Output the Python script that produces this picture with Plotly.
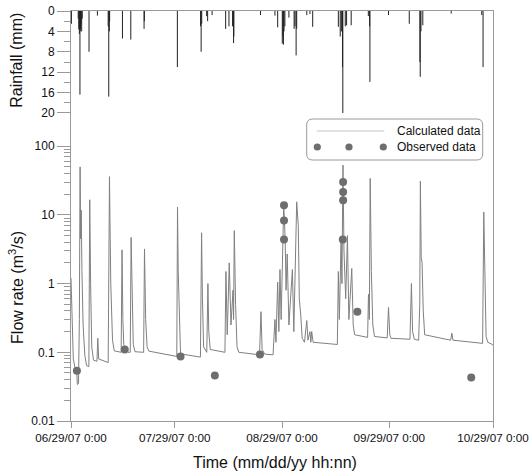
import plotly.graph_objects as go

# ---------------- data ----------------
calc_time = [
    "2007-06-29 00:00", "2007-06-29 08:00", "2007-06-29 16:00", "2007-06-30 06:00", "2007-06-30 16:00",
    "2007-06-30 20:00", "2007-07-01 04:00", "2007-07-01 10:00", "2007-07-01 15:00", "2007-07-01 19:00",
    "2007-07-01 23:00", "2007-07-02 04:00", "2007-07-02 12:00", "2007-07-03 00:00", "2007-07-03 12:00",
    "2007-07-04 04:00", "2007-07-04 10:00", "2007-07-04 16:00", "2007-07-05 00:00", "2007-07-05 12:00",
    "2007-07-06 12:00", "2007-07-06 18:00", "2007-07-07 00:00", "2007-07-09 18:00", "2007-07-09 22:00",
    "2007-07-10 03:00", "2007-07-10 06:00", "2007-07-10 12:00", "2007-07-11 00:00", "2007-07-11 12:00",
    "2007-07-13 12:00", "2007-07-13 18:00", "2007-07-14 00:00", "2007-07-14 06:00", "2007-07-15 12:00",
    "2007-07-16 03:00", "2007-07-16 09:00", "2007-07-16 16:00", "2007-07-17 00:00", "2007-07-17 12:00",
    "2007-07-20 00:00", "2007-07-20 06:00", "2007-07-20 14:00", "2007-07-21 00:00", "2007-07-21 12:00",
    "2007-07-29 14:00", "2007-07-29 19:00", "2007-07-30 00:00", "2007-07-30 08:00", "2007-07-30 16:00",
    "2007-08-05 10:00", "2007-08-05 18:00", "2007-08-06 00:00", "2007-08-06 08:00", "2007-08-07 06:00",
    "2007-08-07 14:00", "2007-08-07 20:00", "2007-08-08 06:00", "2007-08-12 12:00", "2007-08-12 19:00",
    "2007-08-13 04:00", "2007-08-13 18:00", "2007-08-14 06:00", "2007-08-14 20:00", "2007-08-15 00:00",
    "2007-08-15 05:00", "2007-08-15 14:00", "2007-08-16 00:00", "2007-08-16 12:00", "2007-08-22 12:00",
    "2007-08-22 22:00", "2007-08-23 06:00", "2007-08-24 00:00", "2007-08-26 10:00", "2007-08-26 23:00",
    "2007-08-27 06:00", "2007-08-27 18:00", "2007-08-28 02:00", "2007-08-28 10:00", "2007-08-28 18:00",
    "2007-08-29 12:00", "2007-08-29 22:00", "2007-08-30 04:00", "2007-08-30 12:00", "2007-08-31 00:00",
    "2007-09-01 00:00", "2007-09-01 10:00", "2007-09-02 06:00", "2007-09-02 17:00", "2007-09-03 00:00",
    "2007-09-03 10:00", "2007-09-03 20:00", "2007-09-04 12:00", "2007-09-05 04:00", "2007-09-05 12:00",
    "2007-09-06 02:00", "2007-09-06 08:00", "2007-09-06 14:00", "2007-09-07 00:00", "2007-09-14 00:00",
    "2007-09-14 07:00", "2007-09-14 14:00", "2007-09-15 02:00", "2007-09-15 08:00", "2007-09-15 15:00",
    "2007-09-15 22:00", "2007-09-16 10:00", "2007-09-16 22:00", "2007-09-17 08:00", "2007-09-18 04:00",
    "2007-09-18 14:00", "2007-09-19 00:00", "2007-09-22 18:00", "2007-09-23 00:00", "2007-09-23 06:00",
    "2007-09-23 12:00", "2007-09-23 20:00", "2007-09-24 06:00", "2007-09-24 18:00", "2007-09-28 10:00",
    "2007-09-28 19:00", "2007-09-29 04:00", "2007-09-29 12:00", "2007-10-05 00:00", "2007-10-05 10:00",
    "2007-10-05 18:00", "2007-10-06 06:00", "2007-10-07 12:00", "2007-10-07 20:00", "2007-10-08 00:00",
    "2007-10-08 06:00", "2007-10-08 12:00", "2007-10-08 20:00", "2007-10-09 06:00", "2007-10-16 18:00",
    "2007-10-17 03:00", "2007-10-17 10:00", "2007-10-26 00:00", "2007-10-26 08:00", "2007-10-26 16:00",
    "2007-10-27 00:00", "2007-10-27 12:00", "2007-10-28 20:00", "2007-10-29 00:00",
]
calc_flow = [
    1.2, 0.25, 0.08, 0.056, 0.052,
    0.034, 0.035, 0.3, 50, 4.5,
    11.7, 1.5, 0.25, 0.09, 0.064,
    0.062, 16.6, 1.0, 0.12, 0.077,
    0.074, 0.16, 0.08, 0.071, 0.5,
    36, 10, 1.0, 0.15, 0.105,
    0.1, 3.1, 0.3, 0.13, 0.1,
    0.1, 4.7, 0.4, 0.13, 0.102,
    0.1, 3.2, 0.3, 0.12, 0.104,
    0.087, 13, 1.5, 0.2, 0.095,
    0.085, 5.5, 0.6, 0.12, 0.1,
    1.0, 0.2, 0.11, 0.1, 1.5,
    0.18, 2.0, 0.25, 0.8, 0.3,
    5.9, 0.5, 0.12, 0.1, 0.092,
    0.39, 0.11, 0.094, 0.092, 0.3,
    0.14, 1.05, 0.2, 1.6, 0.3,
    14, 4.5, 0.8, 2.7, 0.25,
    1.6, 0.2, 15.5, 7, 0.6,
    0.35, 0.16, 0.14, 0.29, 0.15,
    0.2, 0.14, 0.2, 0.14, 0.13,
    1.5, 0.3, 4.5, 1.0, 53,
    3, 0.6, 5.0, 0.3, 1.66,
    0.25, 0.18, 0.165, 0.7, 0.3,
    34, 1.5, 0.25, 0.17, 0.162,
    0.45, 0.18, 0.16, 0.155, 1.0,
    0.2, 0.155, 0.15, 0.5, 31,
    2.4, 2.0, 0.4, 0.18, 0.15,
    0.19, 0.15, 0.135, 11, 0.6,
    0.17, 0.14, 0.13, 0.125,
]

obs_time = [
    "2007-06-30 17:00", "2007-07-14 13:00", "2007-07-30 16:00", "2007-08-09 14:00", "2007-08-22 15:00",
    "2007-08-29 14:00", "2007-08-29 14:00", "2007-08-29 14:00",
    "2007-09-15 16:00", "2007-09-15 16:00", "2007-09-15 16:00", "2007-09-15 14:00",
    "2007-09-19 19:00", "2007-10-22 17:00",
]
obs_flow = [0.054, 0.11, 0.087, 0.046, 0.093, 13.8, 8.3, 4.4, 30, 21.6, 16.3, 4.4, 0.39, 0.043]

rain_time = [
    "2007-06-29 03:00", "2007-07-01 02:00", "2007-07-01 06:00", "2007-07-01 10:00", "2007-07-01 12:00",
    "2007-07-01 14:00", "2007-07-01 16:00", "2007-07-01 18:00", "2007-07-01 22:00", "2007-07-02 02:00",
    "2007-07-02 06:00", "2007-07-04 05:00", "2007-07-06 15:00", "2007-07-09 18:00", "2007-07-09 22:00",
    "2007-07-10 02:00", "2007-07-10 04:00", "2007-07-13 21:00", "2007-07-16 07:00", "2007-07-20 03:00",
    "2007-07-20 05:00", "2007-07-29 18:00", "2007-08-05 11:00", "2007-08-05 15:00", "2007-08-05 19:00",
    "2007-08-07 05:00", "2007-08-07 12:00", "2007-08-08 19:00", "2007-08-12 17:00", "2007-08-13 16:00",
    "2007-08-14 17:00", "2007-08-15 00:00", "2007-08-15 02:00", "2007-08-22 19:00", "2007-08-26 23:00",
    "2007-08-27 18:00", "2007-08-29 02:00", "2007-08-29 06:00", "2007-08-29 10:00", "2007-08-29 14:00",
    "2007-08-29 20:00", "2007-08-31 00:00", "2007-09-01 12:00", "2007-09-01 18:00", "2007-09-02 02:00",
    "2007-09-02 06:00", "2007-09-05 04:00", "2007-09-06 02:00", "2007-09-06 21:00", "2007-09-14 07:00",
    "2007-09-14 20:00", "2007-09-15 04:00", "2007-09-15 12:00", "2007-09-15 14:00", "2007-09-16 07:00",
    "2007-09-16 16:00", "2007-09-18 00:00", "2007-09-22 23:00", "2007-09-23 08:00", "2007-09-23 10:00",
    "2007-09-28 19:00", "2007-10-04 19:00", "2007-10-07 21:00", "2007-10-07 23:00", "2007-10-08 04:00",
    "2007-10-08 17:00", "2007-10-16 22:00", "2007-10-25 18:00", "2007-10-26 03:00",
]
rain_mm = [
    2.5, 1.5, 3.6, 4.5, 3.0,
    16.4, 4.0, 3.5, 2.5, 4.0,
    1.5, 8.0, 0.9, 3.0, 16.8,
    4.0, 2.0, 5.4, 5.6, 3.5,
    2.0, 11.0, 3.0, 8.0, 2.5,
    1.0, 2.0, 0.8, 3.5, 3.0,
    3.0, 6.3, 5.0, 0.8, 0.9,
    3.2, 6.4, 5.0, 6.6, 4.0,
    3.0, 1.3, 3.5, 3.0, 8.7,
    3.5, 0.8, 0.6, 3.1, 3.1,
    5.0, 4.0, 11.0, 20.0, 3.0,
    2.8, 2.8, 1.0, 3.0, 13.9,
    0.8, 2.5, 10.0, 12.9, 4.0,
    2.8, 0.5, 0.8, 11.0,
]

x_tick_vals = ["2007-06-29", "2007-07-29", "2007-08-29", "2007-09-29", "2007-10-29"]
x_tick_text = ["06/29/07 0:00", "07/29/07 0:00", "08/29/07 0:00", "09/29/07 0:00", "10/29/07 0:00"]
flow_ticks = [0.01, 0.1, 1, 10, 100]
flow_tick_text = ["0.01", "0.1", "1", "10", "100"]
rain_ticks = [0, 4, 8, 12, 16, 20]

# ---------------- style ----------------
FONT = "Arial, 'Liberation Sans', Helvetica, sans-serif"
AXIS_GREY = "#9a9a9a"
CURVE_GREY = "#808080"
DOT_GREY = "#6e6e6e"

flow_minor = [m * 10 ** e for e in (-2, -1, 0, 1) for m in range(2, 10)]
rain_minor = [2, 6, 10, 14, 18]

# rainfall drawn as thin hanging stems (hyetograph)
stem_x, stem_y = [], []
for t, v in zip(rain_time, rain_mm):
    stem_x += [t, t, None]
    stem_y += [0, v, None]

fig = go.Figure()

fig.add_trace(go.Scatter(
    x=stem_x, y=stem_y, yaxis="y2", mode="lines",
    line=dict(color="#222222", width=1),
    showlegend=False, name="Rainfall", connectgaps=False,
))
fig.add_trace(go.Scatter(
    x=calc_time, y=calc_flow, mode="lines",
    line=dict(color=CURVE_GREY, width=1),
    showlegend=False, name="Calculated data",
))
fig.add_trace(go.Scatter(
    x=obs_time, y=obs_flow, mode="markers",
    marker=dict(color=DOT_GREY, size=8),
    showlegend=False, name="Observed data",
))

PW, PH = 422.0, 410.0
fig.update_layout(
    width=530, height=472,
    margin=dict(l=71, r=37, t=11, b=51, pad=0),
    paper_bgcolor="white", plot_bgcolor="white",
    font=dict(family=FONT, size=12, color="#111111"),
    showlegend=False,
    xaxis=dict(
        type="date", range=["2007-06-29", "2007-10-29"],
        tickvals=x_tick_vals, ticktext=x_tick_text,
        ticks="outside", ticklen=6, tickcolor=AXIS_GREY, tickwidth=1,
        showline=True, linecolor=AXIS_GREY, linewidth=1, mirror=True,
        showgrid=False, zeroline=False, automargin=False,
        ticklabeloverflow="allow",
        tickfont=dict(size=11.7, color="#111111"),
    ),
    yaxis=dict(
        type="log", range=[-2, 3.968],
        tickvals=flow_ticks, ticktext=flow_tick_text,
        ticks="outside", ticklen=13, tickcolor=AXIS_GREY, tickwidth=1,
        minor=dict(tickvals=flow_minor, ticks="outside", ticklen=6, tickcolor=AXIS_GREY, showgrid=False),
        showline=True, linecolor=AXIS_GREY, linewidth=1, mirror=True,
        showgrid=False, zeroline=False, automargin=False,
        tickfont=dict(size=12, color="#111111"),
    ),
    yaxis2=dict(
        overlaying="y", side="left",
        range=[80.4, 0],
        tickvals=rain_ticks,
        ticks="outside", ticklen=13, tickcolor=AXIS_GREY, tickwidth=1,
        minor=dict(tickvals=rain_minor, ticks="outside", ticklen=6, tickcolor=AXIS_GREY, showgrid=False),
        showline=False, showgrid=False, zeroline=False, automargin=False,
        tickfont=dict(size=12, color="#111111"),
    ),
)

# axis titles
fig.add_annotation(text="Rainfall (mm)", xref="paper", yref="paper",
                   x=-0.129, y=0.88, textangle=-90, showarrow=False,
                   xanchor="center", yanchor="middle",
                   font=dict(size=16, color="#111111"))
fig.add_annotation(text="Flow rate (m<sup>3</sup>/s)", xref="paper", yref="paper",
                   x=-0.129, y=0.326, textangle=-90, showarrow=False,
                   xanchor="center", yanchor="middle",
                   font=dict(size=16, color="#111111"))
fig.add_annotation(text="Time (mm/dd/yy hh:nn)", xref="paper", yref="paper",
                   x=0.4834, y=-0.1, showarrow=False,
                   xanchor="center", yanchor="middle",
                   font=dict(size=16, color="#111111"))

# custom legend box (Origin style)
def px2x(p):
    return (p - 71.0) / PW

def px2y(p):
    return (421.0 - p) / PH

bx0, bx1, by0, by1 = 306.7, 482.7, 119.0, 160.0
r = 6.0
path = (
    f"M {px2x(bx0 + r)},{px2y(by0)} L {px2x(bx1 - r)},{px2y(by0)} "
    f"Q {px2x(bx1)},{px2y(by0)} {px2x(bx1)},{px2y(by0 + r)} "
    f"L {px2x(bx1)},{px2y(by1 - r)} Q {px2x(bx1)},{px2y(by1)} {px2x(bx1 - r)},{px2y(by1)} "
    f"L {px2x(bx0 + r)},{px2y(by1)} Q {px2x(bx0)},{px2y(by1)} {px2x(bx0)},{px2y(by1 - r)} "
    f"L {px2x(bx0)},{px2y(by0 + r)} Q {px2x(bx0)},{px2y(by0)} {px2x(bx0 + r)},{px2y(by0)} Z"
)
fig.add_shape(type="path", path=path, xref="paper", yref="paper",
              line=dict(color=AXIS_GREY, width=1), fillcolor="white", layer="above")
fig.add_shape(type="line", xref="paper", yref="paper",
              x0=px2x(316.7), x1=px2x(384.3), y0=px2y(131), y1=px2y(131),
              line=dict(color="#c4c4c4", width=1), layer="above")
for cx in (317.3, 349.0, 383.3):
    rad = 3.6
    fig.add_shape(type="circle", xref="paper", yref="paper",
                  x0=px2x(cx - rad), x1=px2x(cx + rad), y0=px2y(147 + rad), y1=px2y(147 - rad),
                  line=dict(width=0), fillcolor=DOT_GREY, layer="above")
fig.add_annotation(text="Calculated data", xref="paper", yref="paper",
                   x=px2x(395), y=px2y(131), xanchor="left", yanchor="middle",
                   showarrow=False, font=dict(size=12, color="#111111"))
fig.add_annotation(text="Observed data", xref="paper", yref="paper",
                   x=px2x(395), y=px2y(147), xanchor="left", yanchor="middle",
                   showarrow=False, font=dict(size=12, color="#111111"))

fig.write_html(
    "out.html",
    config={"displayModeBar": False},
    post_script="document.body.style.margin='0';document.body.style.padding='0';",
)
